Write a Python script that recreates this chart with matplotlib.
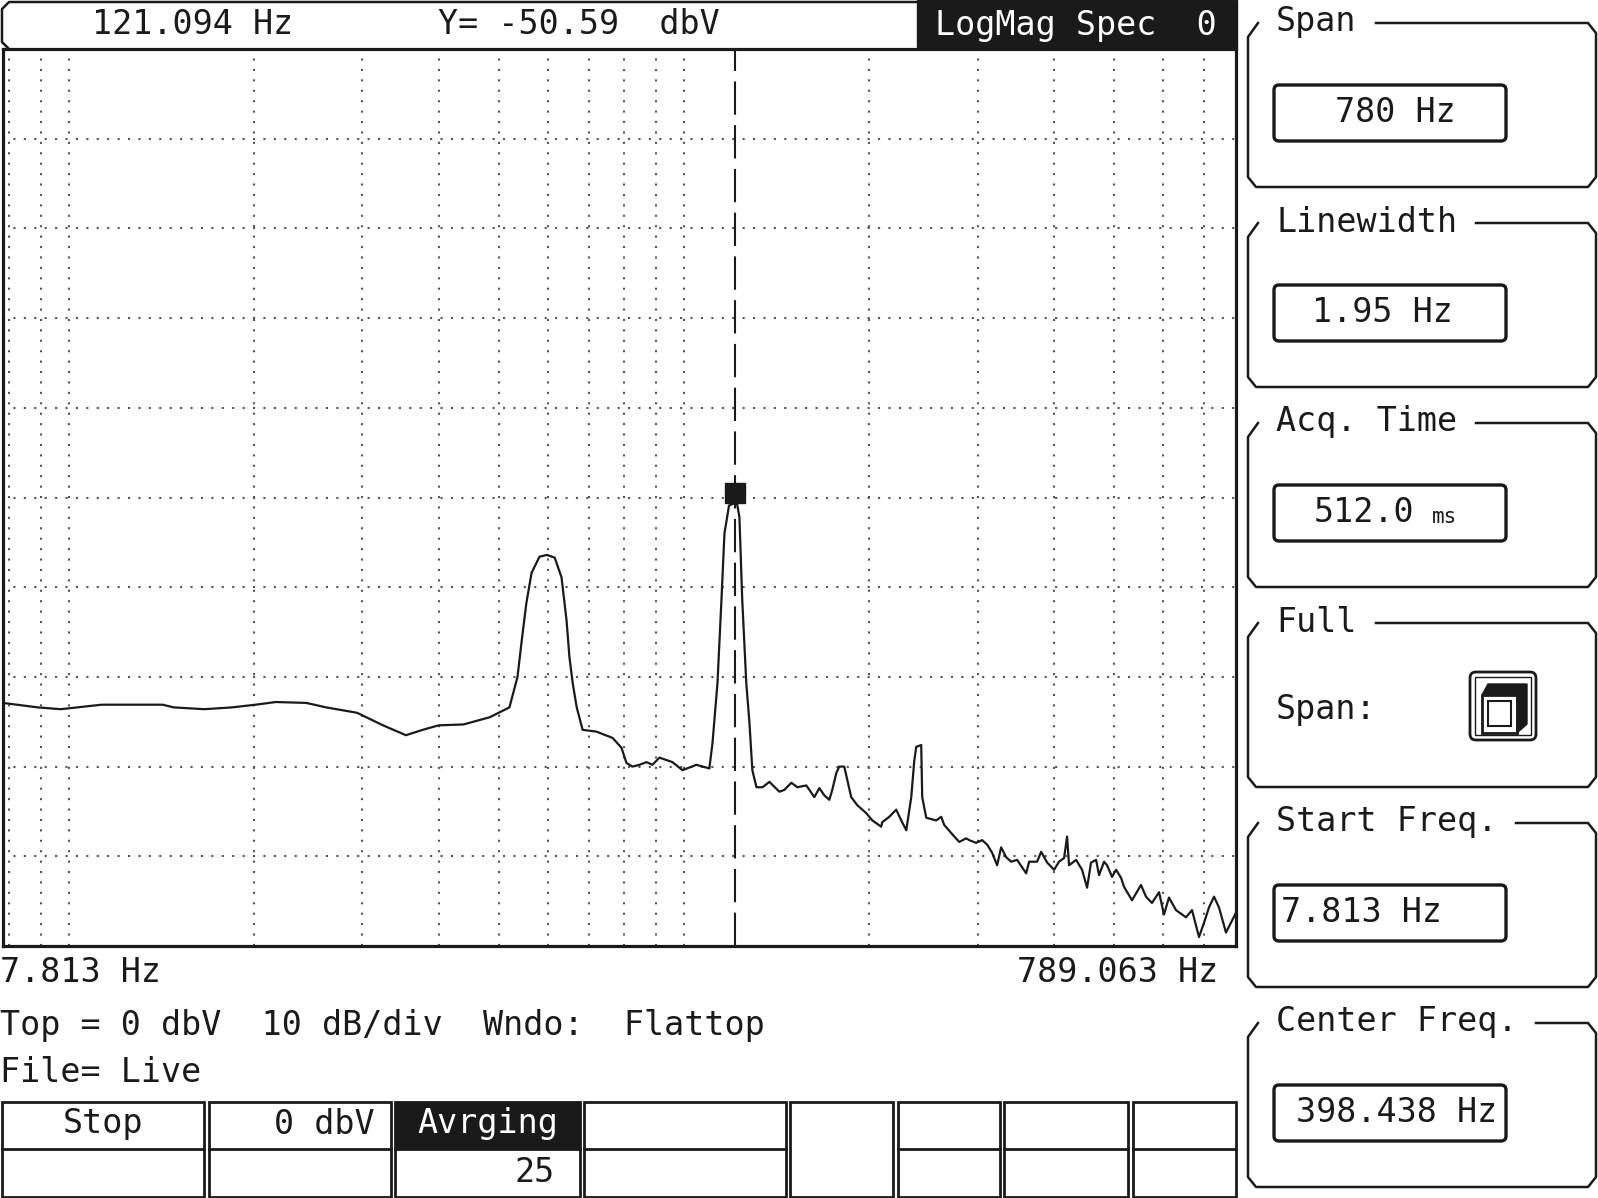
import matplotlib
matplotlib.use('Agg')
import matplotlib.pyplot as plt
import matplotlib.transforms as mtransforms
from matplotlib.patches import Rectangle, FancyBboxPatch, Polygon

W, H = 1598, 1198

# spectrum trace (Hz, dBV)
freq_hz = [7.813, 8.90, 9.70, 10.3, 11.3, 14.2, 14.8, 16.6, 18.4, 20.1, 21.7, 24.3,
           26.2, 29.4, 32.4, 35.3, 37.6, 39.9, 43.8, 48.3, 52.0, 53.6, 54.4, 55.4,
           56.5, 58.2, 59.8, 61.6, 63.2, 64.4, 65.1, 65.9, 66.9, 68.4, 72.0, 76.5,
           79.1, 80.6, 82.4, 84.6, 86.9, 88.8, 91.2, 95.7, 99.4, 104.7, 109.9, 111.2,
           113.3, 115.0, 116.3, 118.3, 121.094, 122.0, 123.0, 124.3, 126.2, 127.7,
           129.1, 131.1, 134.1, 137.6, 142.8, 145.5, 149.4, 152.8, 158.0, 162.8,
           165.9, 169.0, 172.2, 174.1, 176.8, 178.7, 182.1, 184.2, 186.9, 191.2,
           197.8, 202.3, 209.1, 209.9, 215.5, 221.2, 225.4, 229.7, 234.0, 236.7,
           238.4, 242.9, 243.8, 247.5, 256.9, 261.8, 264.7, 271.7, 280.0, 287.4,
           290.7, 298.3, 305.1, 310.9, 316.7, 322.7, 327.6, 333.8, 340.1, 347.8,
           359.8, 363.8, 374.8, 380.5, 389.2, 399.4, 406.9, 414.6, 419.3, 422.4,
           433.7, 443.5, 451.9, 458.6, 467.4, 472.6, 481.6, 487.0, 496.2, 503.7,
           513.2, 518.9, 534.6, 552.9, 563.4, 576.1, 591.6, 602.6, 614.0, 630.3,
           654.4, 669.3, 687.0, 700.1, 713.2, 726.7, 740.4, 760.0, 774.4, 789.0]
level_dbv = [-72.9, -73.4, -73.6, -73.4, -73.1, -73.1, -73.4, -73.6, -73.4, -73.1, -72.8, -72.9,
             -73.4, -74.0, -75.4, -76.5, -75.9, -75.4, -75.3, -74.5, -73.4, -70.0, -66.2, -61.8,
             -58.4, -56.6, -56.4, -56.7, -58.9, -63.7, -67.8, -70.7, -73.4, -75.9, -76.1, -76.8,
             -77.9, -79.6, -80.0, -79.8, -79.5, -79.8, -79.0, -79.5, -80.4, -79.8, -80.2, -77.4,
             -70.7, -61.4, -54.0, -50.9, -50.59, -50.8, -52.2, -61.4, -70.7, -75.1,
             -80.4, -82.3, -82.3, -81.7, -82.8, -82.6, -81.8, -82.3, -82.1, -83.4,
             -82.4, -83.2, -83.7, -82.6, -80.7, -80.0, -80.0, -81.5, -83.4, -84.3,
             -85.2, -86.0, -86.7, -86.2, -85.6, -84.8, -86.0, -87.1, -83.4, -79.3,
             -77.8, -77.6, -83.4, -85.7, -86.0, -85.6, -86.5, -87.4, -88.4, -88.0,
             -88.2, -88.5, -88.2, -88.7, -89.6, -91.0, -89.0, -90.1, -90.6, -90.4,
             -91.9, -90.6, -90.6, -89.5, -90.7, -91.5, -90.6, -90.2, -87.8, -91.0,
             -90.4, -91.5, -93.5, -90.7, -90.4, -92.1, -90.6, -91.0, -92.3, -91.5,
             -92.4, -93.4, -94.9, -93.2, -94.5, -95.2, -94.0, -96.5, -94.6, -96.0,
             -96.8, -96.0, -99.0, -97.4, -95.7, -94.5, -95.7, -98.5, -97.4, -96.3]

grid_freqs = [8, 9, 10, 20, 30, 40, 50, 60, 70, 80, 90, 100, 200, 300, 400, 500, 600, 700]
grid_levels = [-90, -80, -70, -60, -50, -40, -30, -20, -10]

f_start, f_stop = 7.813, 789.063
top_dbv, bottom_dbv = 0, -100
marker_f, marker_y = 121.094, -50.59

panel_titles = ['Span', 'Linewidth', 'Acq. Time', 'Full', 'Start Freq.', 'Center Freq.']
panel_values = ['780 Hz', '1.95 Hz', '512.0', None, '7.813 Hz', '398.438 Hz']
panel_value_x = [1335, 1312, 1314, None, 1281, 1296]

softkey_edges = [(2, 204), (209, 391), (395, 580), (584, 786),
                 (790, 893), (898, 1000), (1004, 1128), (1133, 1236)]
softkey_top = ['Stop', '0 dbV', 'Avrging', '', '', '', '', '']
softkey_bottom = ['', '', '25', '', '', '', '', '']

plt.rcParams['font.family'] = ['DejaVu Sans Mono', 'DejaVu Sans']
FS = 24
INK = '#1a1a1a'

fig = plt.figure(figsize=(W / 100, H / 100), dpi=100)
fig.patch.set_facecolor('white')

# pixel-space layer for the instrument chrome
ui = fig.add_axes([0, 0, 1, 1])
ui.set_xlim(0, W)
ui.set_ylim(H, 0)
ui.axis('off')

# --- spectrum plot ---
pl, pt, pr, pb = 3, 49, 1236, 946
ax = fig.add_axes([pl / W, 1 - pb / H, (pr - pl) / W, (pb - pt) / H], zorder=2)
ax.set_xscale('log')
ax.set_xlim(f_start, f_stop)
ax.set_ylim(bottom_dbv, top_dbv)
ax.set_xticks(grid_freqs)
ax.set_xticks([], minor=True)
ax.set_yticks(grid_levels)
ax.tick_params(length=0, labelbottom=False, labelleft=False)
ax.grid(True, color='#555555', linestyle=(0, (1, 4)), linewidth=1.5)
for s in ax.spines.values():
    s.set_linewidth(2.3)
    s.set_color(INK)

ax.plot(freq_hz, level_dbv, color=INK, linewidth=1.6, zorder=3)
ax.axvline(marker_f, color=INK, linewidth=1.5, linestyle=(0, (16, 5)), zorder=4)
mk = mtransforms.offset_copy(ax.transData, fig=fig, x=0, y=10, units='dots')
ax.plot([marker_f], [marker_y], marker='s', markersize=14, color=INK,
        transform=mk, zorder=5, clip_on=False)

# --- top status bar ---
ui.plot([917, 9, 2, 2, 9], [2, 2, 9, 42, 49], color=INK, linewidth=1.8)
ui.add_patch(Rectangle((917, 0), 320, 47, color=INK))
ui.text(92, 25, '121.094 Hz', fontsize=FS, va='center', color=INK)
ui.text(438, 25, 'Y= -50.59  dbV', fontsize=FS, va='center', color=INK)
ui.text(935, 25, 'LogMag Spec  0', fontsize=FS, va='center', color='white')

# --- text under the plot ---
ui.text(0, 973, '7.813 Hz', fontsize=FS, va='center', color=INK)
ui.text(1218, 973, '789.063 Hz', fontsize=FS, va='center', ha='right', color=INK)
ui.text(0, 1025, 'Top = 0 dbV  10 dB/div  Wndo:  Flattop', fontsize=FS, va='center', color=INK)
ui.text(0, 1072, 'File= Live', fontsize=FS, va='center', color=INK)

# --- softkey bar ---
for i, (x0, x1) in enumerate(softkey_edges):
    ui.add_patch(Rectangle((x0, 1102), x1 - x0, 95, fill=False, edgecolor=INK, linewidth=2))
    if i != 4:
        ui.plot([x0, x1], [1149, 1149], color=INK, linewidth=2)
    tc = INK
    if softkey_top[i] == 'Avrging':
        ui.add_patch(Rectangle((x0, 1102), x1 - x0, 47, color=INK))
        tc = 'white'
    if i == 1:
        ui.text(x1 - 16, 1124, softkey_top[i], fontsize=FS, va='center', ha='right', color=tc)
    else:
        ui.text((x0 + x1) / 2, 1124, softkey_top[i], fontsize=FS, va='center', ha='center', color=tc)
    if softkey_bottom[i]:
        ui.text(x1 - 25, 1172, softkey_bottom[i], fontsize=FS, va='center', ha='right', color=INK)

# --- right hand panel ---
bl, br = 1248, 1596
for k, title in enumerate(panel_titles):
    ty = 22 + 200 * k
    top, bot = ty + 1, ty + 165
    line_start = 1276 + (len(title) + 1) * 20
    ui.plot([line_start, br - 8, br, br, br - 8, bl + 8, bl, bl, bl + 10],
            [top, top, top + 10, bot - 10, bot, bot, bot - 10, top + 14, top],
            color=INK, linewidth=1.8)
    ui.text(1276, ty, title, fontsize=FS, va='center', color=INK)
    if panel_values[k] is not None:
        ui.add_patch(FancyBboxPatch((1276, ty + 65), 228, 52,
                                    boxstyle='round,pad=2,rounding_size=5',
                                    fill=False, edgecolor=INK, linewidth=2.4))
        ui.text(panel_value_x[k], ty + 91, panel_values[k], fontsize=FS, va='center', color=INK)
        if title == 'Acq. Time':
            ui.text(panel_value_x[k] + 5 * 20 + 18, ty + 95, 'ms', fontsize=15,
                    va='center', color=INK)
    else:
        ui.text(1276, ty + 88, 'Span:', fontsize=FS, va='center', color=INK)
        # full span button icon
        ui.add_patch(FancyBboxPatch((1470, 672), 66, 68, boxstyle='round,pad=0,rounding_size=6',
                                    fill=False, edgecolor=INK, linewidth=2))
        ui.add_patch(Rectangle((1475, 677), 56, 58, fill=False, edgecolor=INK, linewidth=1))
        ui.add_patch(Polygon([(1482, 695), (1488, 684), (1527, 684), (1527, 724),
                              (1517, 733), (1517, 695)], closed=True, color=INK))
        ui.add_patch(Rectangle((1482, 695), 35, 38, fill=False, edgecolor=INK, linewidth=2))
        ui.add_patch(Rectangle((1488, 701), 23, 25, fill=False, edgecolor=INK, linewidth=1.5))

fig.savefig('out.png', dpi=100, facecolor='white')
